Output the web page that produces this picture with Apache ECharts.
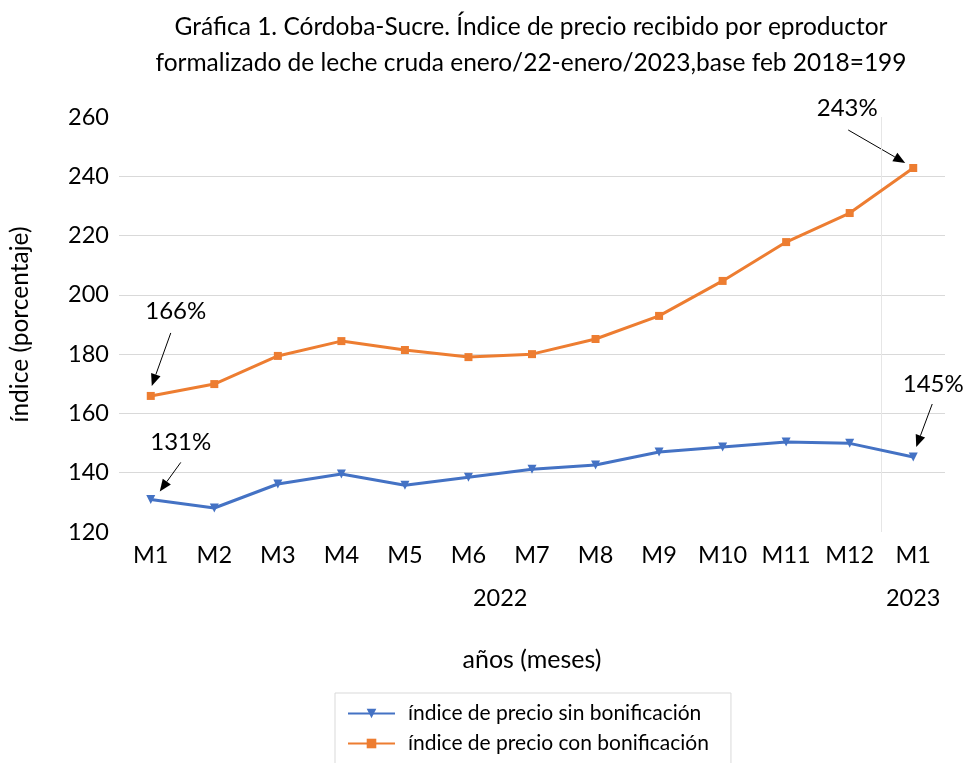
<!DOCTYPE html>
<html><head><meta charset="utf-8">
<script src="https://cdn.jsdelivr.net/npm/echarts@6/dist/echarts.min.js"></script>
<style>html,body{margin:0;padding:0;background:#fff}#c{width:964px;height:763px}</style>
</head><body><div id="c"></div>
<script>
// ---- data ----
const months = ['M1','M2','M3','M4','M5','M6','M7','M8','M9','M10','M11','M12','M1'];
const years = ['2022','2023'];
const yearFirstIdx = [0, 12];
const yearLastIdx = [11, 12];
const seriesNames = ['índice de precio sin bonificación', 'índice de precio con bonificación'];
const sinBonif = [131, 128.1, 136.2, 139.6, 135.8, 138.5, 141.2, 142.6, 147, 148.7, 150.4, 149.9, 145.3];
const conBonif = [165.9, 169.9, 179.4, 184.4, 181.4, 179, 180, 185.1, 192.9, 204.7, 217.8, 227.6, 242.8];
const yMin = 120, yMax = 260, yStep = 20;
const titleText = 'Gráfica 1. Córdoba-Sucre. Índice de precio recibido por eproductor\nformalizado de leche cruda enero/22-enero/2023,base feb 2018=199';
const yName = 'índice (porcentaje)';
const xName = 'años (meses)';
const annoTexts = ['131%', '166%', '243%', '145%'];
const annoSeries = [0, 1, 1, 0];
const annoIndex = [0, 0, 12, 12];

const FONT = 'Lato';
const chart = echarts.init(document.getElementById('c'), null, {renderer: 'canvas'});
const nTicks = (yMax - yMin) / yStep + 1;
const splitColors = [];
for (let i = 0; i < nTicks; i++) splitColors.push(i === 0 || i === nTicks - 1 ? 'rgba(0,0,0,0)' : '#d9d9d9');

chart.setOption({
  animation: false,
  textStyle: {fontFamily: FONT},
  title: {
    text: titleText, left: 526, top: 4, textAlign: 'center',
    textStyle: {fontFamily: FONT, fontSize: 24.5, fontWeight: 'normal', color: '#000', lineHeight: 36}
  },
  grid: {left: 118, right: 19, top: 117, bottom: 231},
  xAxis: {
    type: 'category', data: months, boundaryGap: true,
    axisLine: {show: false}, axisTick: {show: false},
    axisLabel: {fontFamily: FONT, fontSize: 23.5, color: '#000', margin: 11, interval: 0},
    name: xName, nameLocation: 'middle', nameGap: 115,
    nameTextStyle: {fontFamily: FONT, fontSize: 25, color: '#000'}
  },
  yAxis: {
    type: 'value', min: yMin, max: yMax, interval: yStep,
    axisLine: {show: false}, axisTick: {show: false},
    axisLabel: {fontFamily: FONT, fontSize: 23.5, color: '#000', margin: 10},
    splitLine: {show: true, lineStyle: {color: splitColors, width: 1}},
    name: yName, nameLocation: 'middle', nameGap: 86, nameRotate: 90,
    nameTextStyle: {fontFamily: FONT, fontSize: 24.5, color: '#000'}
  },
  legend: {
    orient: 'vertical', left: 335, top: 693, height: 120,
    padding: [10, 22, 10, 12], itemGap: 9,
    borderColor: '#d9d9d9', borderWidth: 1,
    itemWidth: 47, itemHeight: 12,
    textStyle: {fontFamily: FONT, fontSize: 21, color: '#000', padding: [0, 0, 0, 8]},
    data: seriesNames
  },
  series: [
    {name: seriesNames[0], type: 'line', data: sinBonif, symbol: 'triangle', symbolRotate: 180, symbolSize: 9,
     lineStyle: {color: '#4472C4', width: 3}, itemStyle: {color: '#4472C4'}},
    {name: seriesNames[1], type: 'line', data: conBonif, symbol: 'rect', symbolSize: 8,
     lineStyle: {color: '#ED7D31', width: 3}, itemStyle: {color: '#ED7D31'}}
  ]
});

// annotation layout (offsets in px relative to point)
const annoLayout = [
  {tail: [30, -37], tip: [9, -8], text: [30, -57]},
  {tail: [20, -63], tip: [1, -10], text: [25, -85]},
  {tail: [-65, -38], tip: [-8, -5], text: [-66, -60]},
  {tail: [19, -53], tip: [3, -10], text: [20, -73]}
];
const seriesData = [sinBonif, conBonif];
const g = [];
annoTexts.forEach((t, i) => {
  const p = chart.convertToPixel({gridIndex: 0}, [annoIndex[i], seriesData[annoSeries[i]][annoIndex[i]]]);
  const L = annoLayout[i];
  const tx = p[0] + L.tail[0], ty = p[1] + L.tail[1];
  const hx = p[0] + L.tip[0], hy = p[1] + L.tip[1];
  const ang = Math.atan2(hy - ty, hx - tx);
  const hl = 12, hw = 5;
  const bx = hx - hl * Math.cos(ang), by = hy - hl * Math.sin(ang);
  g.push({type: 'line', shape: {x1: tx, y1: ty, x2: bx, y2: by}, style: {stroke: '#000', lineWidth: 1}});
  g.push({type: 'polygon', shape: {points: [[hx, hy],
    [bx + hw * Math.sin(ang), by - hw * Math.cos(ang)],
    [bx - hw * Math.sin(ang), by + hw * Math.cos(ang)]]}, style: {fill: '#000'}});
  g.push({type: 'text', x: p[0] + L.text[0], y: p[1] + L.text[1],
    style: {text: t, fontFamily: FONT, fontSize: 24, fill: '#000', align: 'center', verticalAlign: 'middle'}});
});
// year labels and separator
const gridTop = chart.convertToPixel({yAxisIndex: 0}, yMax);
const gridBot = chart.convertToPixel({yAxisIndex: 0}, yMin);
years.forEach((y, i) => {
  const a = chart.convertToPixel({xAxisIndex: 0}, yearFirstIdx[i]);
  const b = chart.convertToPixel({xAxisIndex: 0}, yearLastIdx[i]);
  g.push({type: 'text', x: (a + b) / 2, y: gridBot + 66,
    style: {text: y, fontFamily: FONT, fontSize: 23.5, fill: '#000', align: 'center', verticalAlign: 'middle'}});
});
const s1 = chart.convertToPixel({xAxisIndex: 0}, yearLastIdx[0]);
const s2 = chart.convertToPixel({xAxisIndex: 0}, yearFirstIdx[1]);
const sx = Math.round((s1 + s2) / 2) + 0.5;
g.push({type: 'line', shape: {x1: sx, y1: gridTop, x2: sx, y2: gridBot}, style: {stroke: '#e6e6e6', lineWidth: 1}});
chart.setOption({graphic: g});
</script>
</body></html>
